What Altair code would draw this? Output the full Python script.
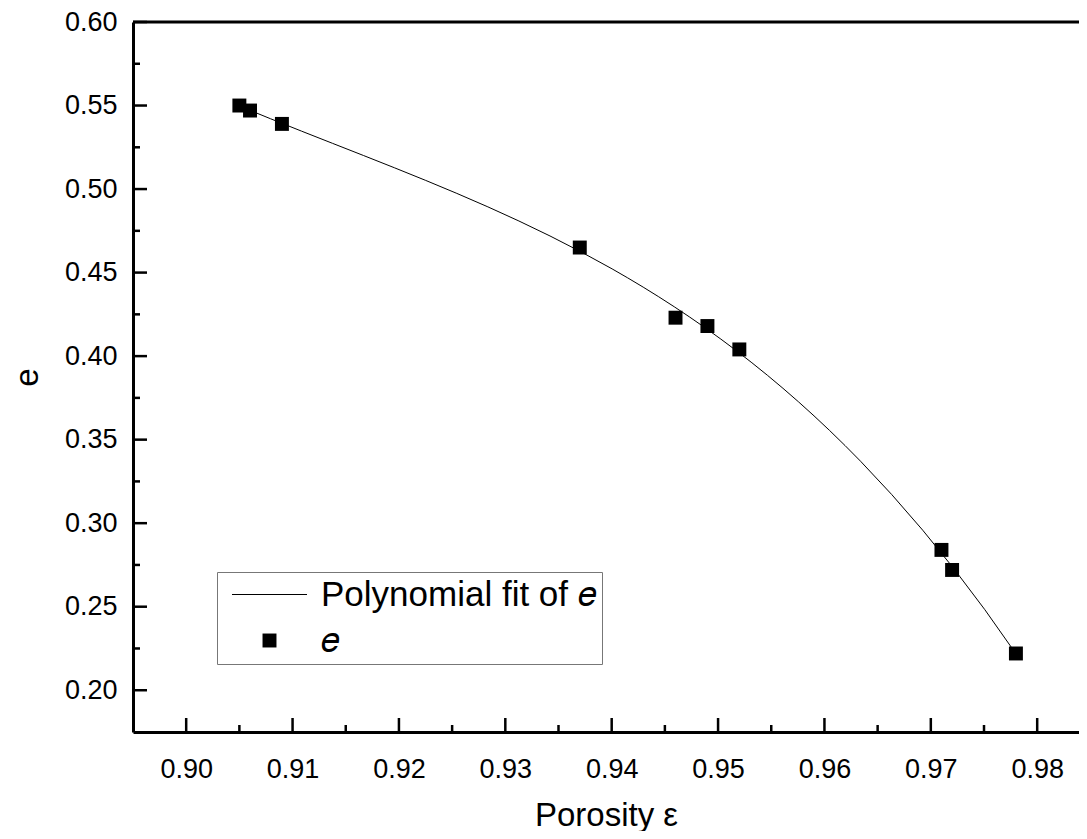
import altair as alt
import pandas as pd

# ---- data ----
porosity = [0.905, 0.906, 0.909, 0.937, 0.946, 0.949, 0.952, 0.971, 0.972, 0.978]
e_values = [0.550, 0.547, 0.539, 0.465, 0.423, 0.418, 0.404, 0.284, 0.272, 0.222]

x_major = [0.90, 0.91, 0.92, 0.93, 0.94, 0.95, 0.96, 0.97, 0.98]
x_minor = [0.905, 0.915, 0.925, 0.935, 0.945, 0.955, 0.965, 0.975]
y_major = [0.20, 0.25, 0.30, 0.35, 0.40, 0.45, 0.50, 0.55, 0.60]
y_minor = [0.225, 0.275, 0.325, 0.375, 0.425, 0.475, 0.525, 0.575]

x_domain = [0.895, 0.98393]
y_domain = [0.175, 0.60]

fit_label = "Polynomial fit of \U0001D452"
pt_label = "\U0001D452"

W, H = 946, 710
FONT = "Liberation Sans"

LINE_PATH = "M-5,-0.07H5V0.07H-5Z"
SQUARE_PATH = "M-0.93,-0.93H0.93V0.93H-0.93Z"

df = pd.DataFrame({"x": porosity, "y": e_values, "series": [pt_label] * len(porosity)})

xs = alt.Scale(domain=x_domain, nice=False, zero=False)
ys = alt.Scale(domain=y_domain, nice=False, zero=False)

x_axis = alt.Axis(values=x_major, format=".2f", ticks=False, grid=False,
                  domainWidth=3, domainColor="black", labelFontSize=27,
                  labelFont=FONT, labelColor="black", labelPadding=24,
                  title="Porosity ε", titleFont=FONT, titleFontSize=33,
                  titleFontWeight="normal", titleColor="black", titlePadding=17)
y_axis = alt.Axis(values=y_major, format=".2f", ticks=False, grid=False,
                  domainWidth=3, domainColor="black", labelFontSize=27,
                  labelFont=FONT, labelColor="black", labelPadding=16,
                  title="e", titleFont=FONT, titleFontSize=33,
                  titleFontWeight="normal", titleColor="black", titlePadding=20)

base = alt.Chart(df)

fit = base.transform_regression("x", "y", method="poly", order=3).mark_line(
    color="black", strokeWidth=1
).encode(
    x=alt.X("x:Q", scale=xs, axis=x_axis),
    y=alt.Y("y:Q", scale=ys, axis=y_axis),
)

points = base.mark_point(filled=True, color="black", opacity=1, size=225).encode(
    x=alt.X("x:Q", scale=xs),
    y=alt.Y("y:Q", scale=ys),
    shape=alt.Shape(
        "series:N",
        scale=alt.Scale(domain=[fit_label, pt_label], range=[LINE_PATH, SQUARE_PATH]),
        legend=alt.Legend(
            title=None, orient="none", legendX=84, legendY=550,
            symbolSize=225, symbolFillColor="black", symbolOffset=30,
            labelFont=FONT, labelFontSize=35, labelColor="black", labelLimit=600,
            labelOffset=34, padding=5, rowPadding=10,
            strokeColor="#777777", fillColor="white",
        ),
    ),
)

xmaj = alt.Chart(pd.DataFrame({"v": x_major})).mark_rule(color="black", strokeWidth=2.5).encode(
    x=alt.X("v:Q", scale=xs), y=alt.value(H), y2=alt.value(H - 14))
xmin = alt.Chart(pd.DataFrame({"v": x_minor})).mark_rule(color="black", strokeWidth=2.5).encode(
    x=alt.X("v:Q", scale=xs), y=alt.value(H), y2=alt.value(H - 7))
ymaj = alt.Chart(pd.DataFrame({"v": y_major})).mark_rule(color="black", strokeWidth=2.5).encode(
    y=alt.Y("v:Q", scale=ys), x=alt.value(0), x2=alt.value(14))
ymin = alt.Chart(pd.DataFrame({"v": y_minor})).mark_rule(color="black", strokeWidth=2.5).encode(
    y=alt.Y("v:Q", scale=ys), x=alt.value(0), x2=alt.value(7))
top = alt.Chart(pd.DataFrame({"v": [0]})).mark_rule(color="black", strokeWidth=3).encode(
    y=alt.value(0), x=alt.value(0), x2=alt.value(W))

chart = alt.layer(fit, points, xmaj, xmin, ymaj, ymin, top).properties(
    width=W, height=H,
    padding={"left": 125, "top": 14, "right": 0, "bottom": 99},
    autosize=alt.AutoSizeParams(type="none"),
).configure_view(stroke=None).configure(background="white")

chart.save("out.html", embed_options={"renderer": "svg", "actions": False})
